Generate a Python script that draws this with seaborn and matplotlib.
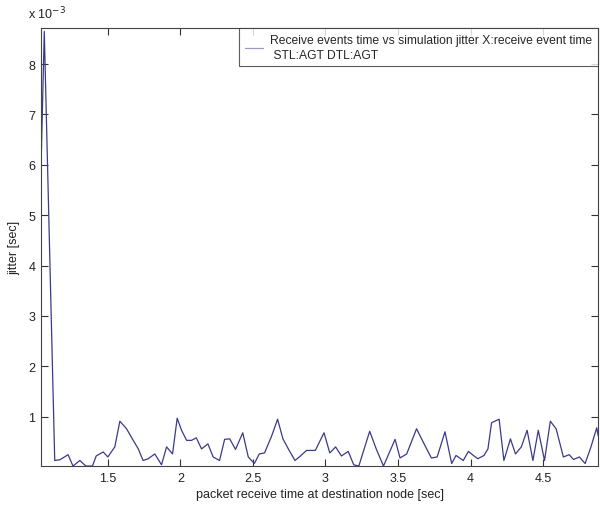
import matplotlib
matplotlib.use("Agg")
import matplotlib.pyplot as plt
import seaborn as sns
import pandas as pd
from matplotlib.ticker import FuncFormatter

# packet receive time at destination node [sec]
receive_time = [1.040, 1.062, 1.134, 1.17, 1.226, 1.26, 1.307, 1.348, 1.394, 1.42,
                1.468, 1.50, 1.548, 1.583, 1.629, 1.675, 1.71, 1.743, 1.778, 1.824,
                1.87, 1.905, 1.946, 1.978, 2.008, 2.043, 2.077, 2.11, 2.146, 2.19,
                2.226, 2.27, 2.305, 2.34, 2.38, 2.43, 2.468, 2.51, 2.544, 2.58,
                2.627, 2.67, 2.707, 2.75, 2.79, 2.82, 2.87, 2.93, 2.99, 3.03,
                3.07, 3.11, 3.157, 3.195, 3.23, 3.305, 3.35, 3.40, 3.48, 3.514,
                3.56, 3.628, 3.68, 3.73, 3.77, 3.824, 3.87, 3.90, 3.95, 3.985,
                4.02, 4.05, 4.093, 4.12, 4.145, 4.197, 4.23, 4.275, 4.31, 4.35,
                4.39, 4.43, 4.467, 4.51, 4.55, 4.59, 4.64, 4.68, 4.71, 4.75,
                4.79, 4.83, 4.87, 4.88]
# jitter in units of 1e-3 sec
jitter_e3 = [6.0, 8.65, 0.13, 0.145, 0.245, 0.02, 0.13, 0.02, 0.02, 0.22,
             0.30, 0.20, 0.40, 0.91, 0.76, 0.53, 0.36, 0.13, 0.165, 0.26,
             0.045, 0.40, 0.26, 0.97, 0.73, 0.53, 0.53, 0.58, 0.36, 0.46,
             0.20, 0.13, 0.55, 0.56, 0.35, 0.68, 0.20, 0.07, 0.26, 0.28,
             0.60, 0.95, 0.56, 0.33, 0.13, 0.20, 0.33, 0.33, 0.68, 0.28,
             0.40, 0.22, 0.31, 0.045, 0.02, 0.71, 0.36, 0.02, 0.55, 0.18,
             0.26, 0.76, 0.46, 0.18, 0.20, 0.70, 0.07, 0.23, 0.13, 0.31,
             0.23, 0.165, 0.23, 0.36, 0.88, 0.95, 0.13, 0.56, 0.26, 0.40,
             0.73, 0.13, 0.73, 0.13, 0.91, 0.76, 0.20, 0.245, 0.15, 0.20,
             0.07, 0.40, 0.78, 0.62]

x_ticks = [1.5, 2, 2.5, 3, 3.5, 4, 4.5]
y_ticks_e3 = [1, 2, 3, 4, 5, 6, 7, 8]

legend_label = "Receive events time vs simulation jitter X:receive event time\n STL:AGT DTL:AGT"

df = pd.DataFrame({"t": receive_time, "j": [v * 1e-3 for v in jitter_e3]})

sns.set_style("white")
plt.rcParams["font.family"] = ["Liberation Sans", "DejaVu Sans"]

fig = plt.figure(figsize=(6.0, 5.06), dpi=100)
ax = fig.add_axes([0.068, 0.077, 0.929, 0.866])

sns.lineplot(data=df, x="t", y="j", estimator=None, sort=False, ax=ax,
             color="#3a3a8a", linewidth=0.9, label=legend_label)

ax.set_xlim(1.038, 4.88)
ax.set_ylim(0.02e-3, 8.72e-3)
ax.set_xticks(x_ticks)
ax.set_yticks([v * 1e-3 for v in y_ticks_e3])
ax.xaxis.set_major_formatter(FuncFormatter(lambda v, p: f"{v:g}"))
ax.yaxis.set_major_formatter(FuncFormatter(lambda v, p: f"{v*1e3:.0f}"))
ax.tick_params(direction="in", length=5, width=0.8, colors="#333333",
               labelcolor="#222222", labelsize=9, top=True, right=True,
               bottom=True, left=True, pad=4)
for s in ax.spines.values():
    s.set_color("#444444")
    s.set_linewidth(0.8)

ax.set_xlabel("packet receive time at destination node [sec]", fontsize=9, color="#222222", labelpad=3)
ax.set_ylabel("jitter [sec]", fontsize=9, color="#222222", labelpad=6)
fig.text(0.047, 0.955, r"x 10$^{-3}$", fontsize=9, color="#222222", va="bottom")

leg = ax.legend(loc="upper right", fontsize=8.7, frameon=True, fancybox=False,
                borderaxespad=0.05, handlelength=1.5, handletextpad=0.6,
                borderpad=0.45, labelspacing=0.2)
leg.get_frame().set_edgecolor("#333333")
leg.get_frame().set_linewidth(0.8)
for t in leg.get_texts():
    t.set_linespacing(1.35)
for h in leg.get_lines():
    h.set_color("#9a9ac0")

fig.savefig("out.png", dpi=100)
